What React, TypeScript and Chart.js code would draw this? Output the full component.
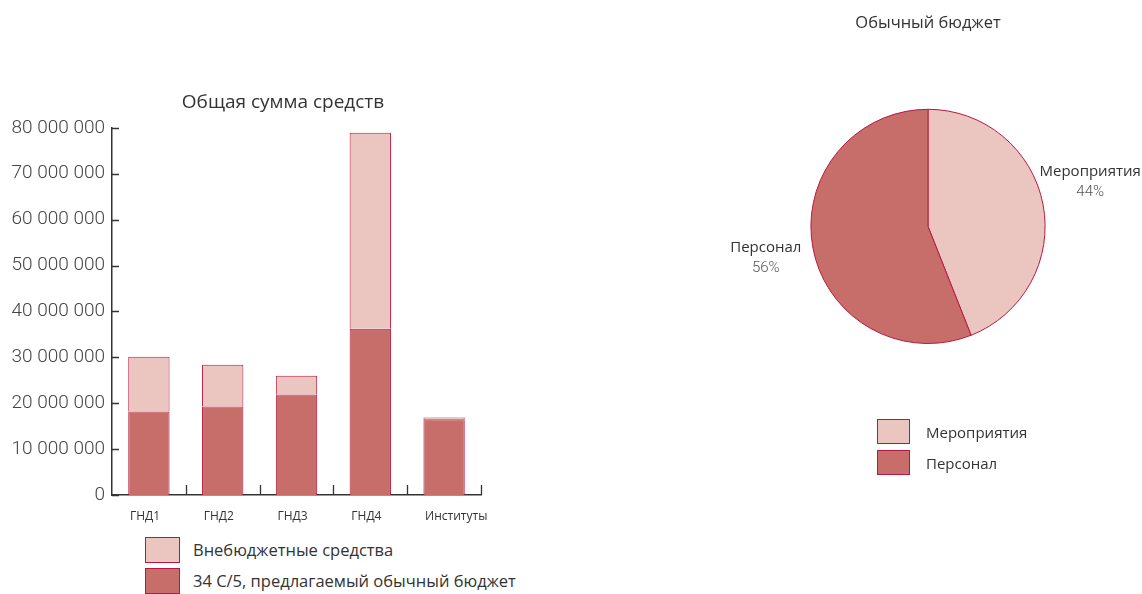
import React, { useEffect, useRef } from "react";
import { Chart, registerables } from "chart.js";

Chart.register(...registerables);

const categories = ["ГНД1", "ГНД2", "ГНД3", "ГНД4", "Институты"];
const regularBudget = [18200000, 19300000, 21900000, 36200000, 16500000];
const extraBudget = [11900000, 9100000, 4100000, 42700000, 400000];
const barSeriesNames = ["Внебюджетные средства", "34 C/5, предлагаемый обычный бюджет"];
const yTicks = [0, 10000000, 20000000, 30000000, 40000000, 50000000, 60000000, 70000000, 80000000];

const pieLabels = ["Мероприятия", "Персонал"];
const pieValues = [44, 56];

const LIGHT = "#ebc6c0";
const DARK = "#c86e6a";
const EDGE = "#b8183f";
const TEXT = "#333333";

// vertical nudge of the outside pie labels (layout only)
const pieLabelNudgeY = [-14, 0];

const fmt = (v: number) => String(v).replace(/\B(?=(\d{3})+(?!\d))/g, " ");

const inwardTicks = {
  id: "inwardTicks",
  afterDatasetsDraw(chart: any) {
    const { ctx } = chart;
    const x = chart.scales.x;
    const y = chart.scales.y;
    ctx.save();
    ctx.strokeStyle = "#333";
    ctx.lineWidth = 1.3;
    ctx.beginPath();
    yTicks.forEach((v) => {
      const py = Math.round(y.getPixelForValue(v)) + 0.5;
      ctx.moveTo(x.left, py);
      ctx.lineTo(x.left + 7, py);
    });
    const n = categories.length;
    const w = (x.right - x.left) / n;
    for (let k = 1; k <= n; k++) {
      const px = Math.round(x.left + k * w) + 0.5;
      ctx.moveTo(px, y.bottom);
      ctx.lineTo(px, y.bottom - 10);
    }
    ctx.stroke();
    ctx.restore();
  },
};

const pieOuterLabels = {
  id: "pieOuterLabels",
  afterDatasetsDraw(chart: any) {
    const { ctx } = chart;
    const meta = chart.getDatasetMeta(0);
    const total = pieValues.reduce((a, b) => a + b, 0);
    ctx.save();
    ctx.textAlign = "center";
    ctx.textBaseline = "middle";
    meta.data.forEach((arc: any, i: number) => {
      const p = arc.getProps(["x", "y", "startAngle", "endAngle", "outerRadius"], true);
      const mid = (p.startAngle + p.endAngle) / 2;
      const r = p.outerRadius * 1.41;
      const cx = p.x + Math.cos(mid) * r;
      const cy = p.y + Math.sin(mid) * r + pieLabelNudgeY[i];
      ctx.fillStyle = TEXT;
      ctx.font = "15px 'Open Sans'";
      ctx.fillText(pieLabels[i], cx, cy - 10);
      ctx.fillStyle = "#555";
      ctx.font = "300 15px Roboto";
      ctx.fillText(Math.round((pieValues[i] / total) * 100) + "%", cx, cy + 11);
    });
    ctx.restore();
  },
};

function LegendItem({ color, label, size, fontSize, gap, h }: any) {
  return (
    <div style={{ display: "flex", alignItems: "center", height: h }}>
      <div
        style={{
          width: size[0],
          height: size[1],
          background: color,
          border: `1.5px solid ${EDGE}`,
          boxSizing: "border-box",
          flex: "none",
        }}
      />
      <span style={{ marginLeft: gap, fontSize, color: TEXT, fontFamily: "'Open Sans'", whiteSpace: "nowrap" }}>
        {label}
      </span>
    </div>
  );
}

export default function App() {
  const barRef = useRef<HTMLCanvasElement>(null);
  const pieRef = useRef<HTMLCanvasElement>(null);

  useEffect(() => {
    const bar = new Chart(barRef.current as HTMLCanvasElement, {
      type: "bar",
      data: {
        labels: categories,
        datasets: [
          {
            label: barSeriesNames[1],
            data: regularBudget,
            backgroundColor: DARK,
            borderColor: EDGE,
            borderWidth: 1,
            barPercentage: 0.56,
            categoryPercentage: 1,
          },
          {
            label: barSeriesNames[0],
            data: extraBudget,
            backgroundColor: LIGHT,
            borderColor: EDGE,
            borderWidth: 1,
            barPercentage: 0.56,
            categoryPercentage: 1,
          },
        ],
      },
      options: {
        animation: false,
        responsive: false,
        maintainAspectRatio: false,
        layout: { padding: 0 },
        plugins: {
          legend: { display: false },
          tooltip: { enabled: false },
          title: {
            display: true,
            text: "Общая сумма средств",
            color: TEXT,
            font: { family: "'Open Sans'", size: 19, weight: "normal" },
            padding: { top: 11, bottom: 14 },
          },
        },
        scales: {
          x: {
            stacked: true,
            offset: true,
            grid: { display: false, drawTicks: false },
            border: { display: true, color: "#333", width: 1.5 },
            ticks: {
              color: TEXT,
              font: { family: "'Open Sans'", size: 12 },
              padding: 14,
              align: "start",
              labelOffset: -19,
            },
            afterFit: (s: any) => {
              s.height = 35;
            },
          },
          y: {
            stacked: true,
            min: 0,
            max: 80000000,
            grid: { display: false, drawTicks: false },
            border: { display: true, color: "#333", width: 1.5 },
            afterBuildTicks: (s: any) => {
              s.ticks = yTicks.map((v) => ({ value: v }));
            },
            ticks: {
              color: "#444",
              font: { family: "Roboto", size: 19, weight: 300 as any },
              padding: 7,
              callback: (v: any) => fmt(Number(v)),
            },
            afterFit: (s: any) => {
              s.width = 112;
            },
          },
          spacer: {
            type: "linear",
            position: "right",
            display: true,
            grid: { display: false, drawTicks: false },
            border: { display: false },
            ticks: { display: false },
            afterFit: (s: any) => {
              s.width = 85;
            },
          },
        },
      },
      plugins: [inwardTicks],
    });

    const pie = new Chart(pieRef.current as HTMLCanvasElement, {
      type: "pie",
      data: {
        labels: pieLabels,
        datasets: [
          {
            data: pieValues,
            backgroundColor: [LIGHT, DARK],
            borderColor: EDGE,
            borderWidth: 1,
          },
        ],
      },
      options: {
        animation: false,
        responsive: false,
        maintainAspectRatio: false,
        layout: { padding: { top: 0, bottom: 136, left: 0, right: 0 } },
        plugins: {
          legend: { display: false },
          tooltip: { enabled: false },
          title: {
            display: true,
            text: "Обычный бюджет",
            color: TEXT,
            font: { family: "'Open Sans'", size: 16.5, weight: "normal" },
            padding: { top: 13, bottom: 76 },
          },
        },
      },
      plugins: [pieOuterLabels],
    });

    return () => {
      bar.destroy();
      pie.destroy();
    };
  }, []);

  return (
    <div style={{ position: "absolute", left: 0, top: 0, width: 1142, height: 594, overflow: "hidden", background: "#fff" }}>
      <canvas ref={barRef} width={566} height={450} style={{ position: "absolute", left: 0, top: 80, width: 566, height: 450 }} />
      <div style={{ position: "absolute", left: 145, top: 534 }}>
        <LegendItem color={LIGHT} label={barSeriesNames[0]} size={[35, 26]} fontSize={16.5} gap={13} h={31} />
        <LegendItem color={DARK} label={barSeriesNames[1]} size={[35, 26]} fontSize={16.5} gap={13} h={31} />
      </div>
      <canvas ref={pieRef} width={428} height={480} style={{ position: "absolute", left: 714, top: 0, width: 428, height: 480 }} />
      <div style={{ position: "absolute", left: 877, top: 416 }}>
        <LegendItem color={LIGHT} label={pieLabels[0]} size={[33, 25]} fontSize={15} gap={16} h={31} />
        <LegendItem color={DARK} label={pieLabels[1]} size={[33, 25]} fontSize={15} gap={16} h={31} />
      </div>
    </div>
  );
}
